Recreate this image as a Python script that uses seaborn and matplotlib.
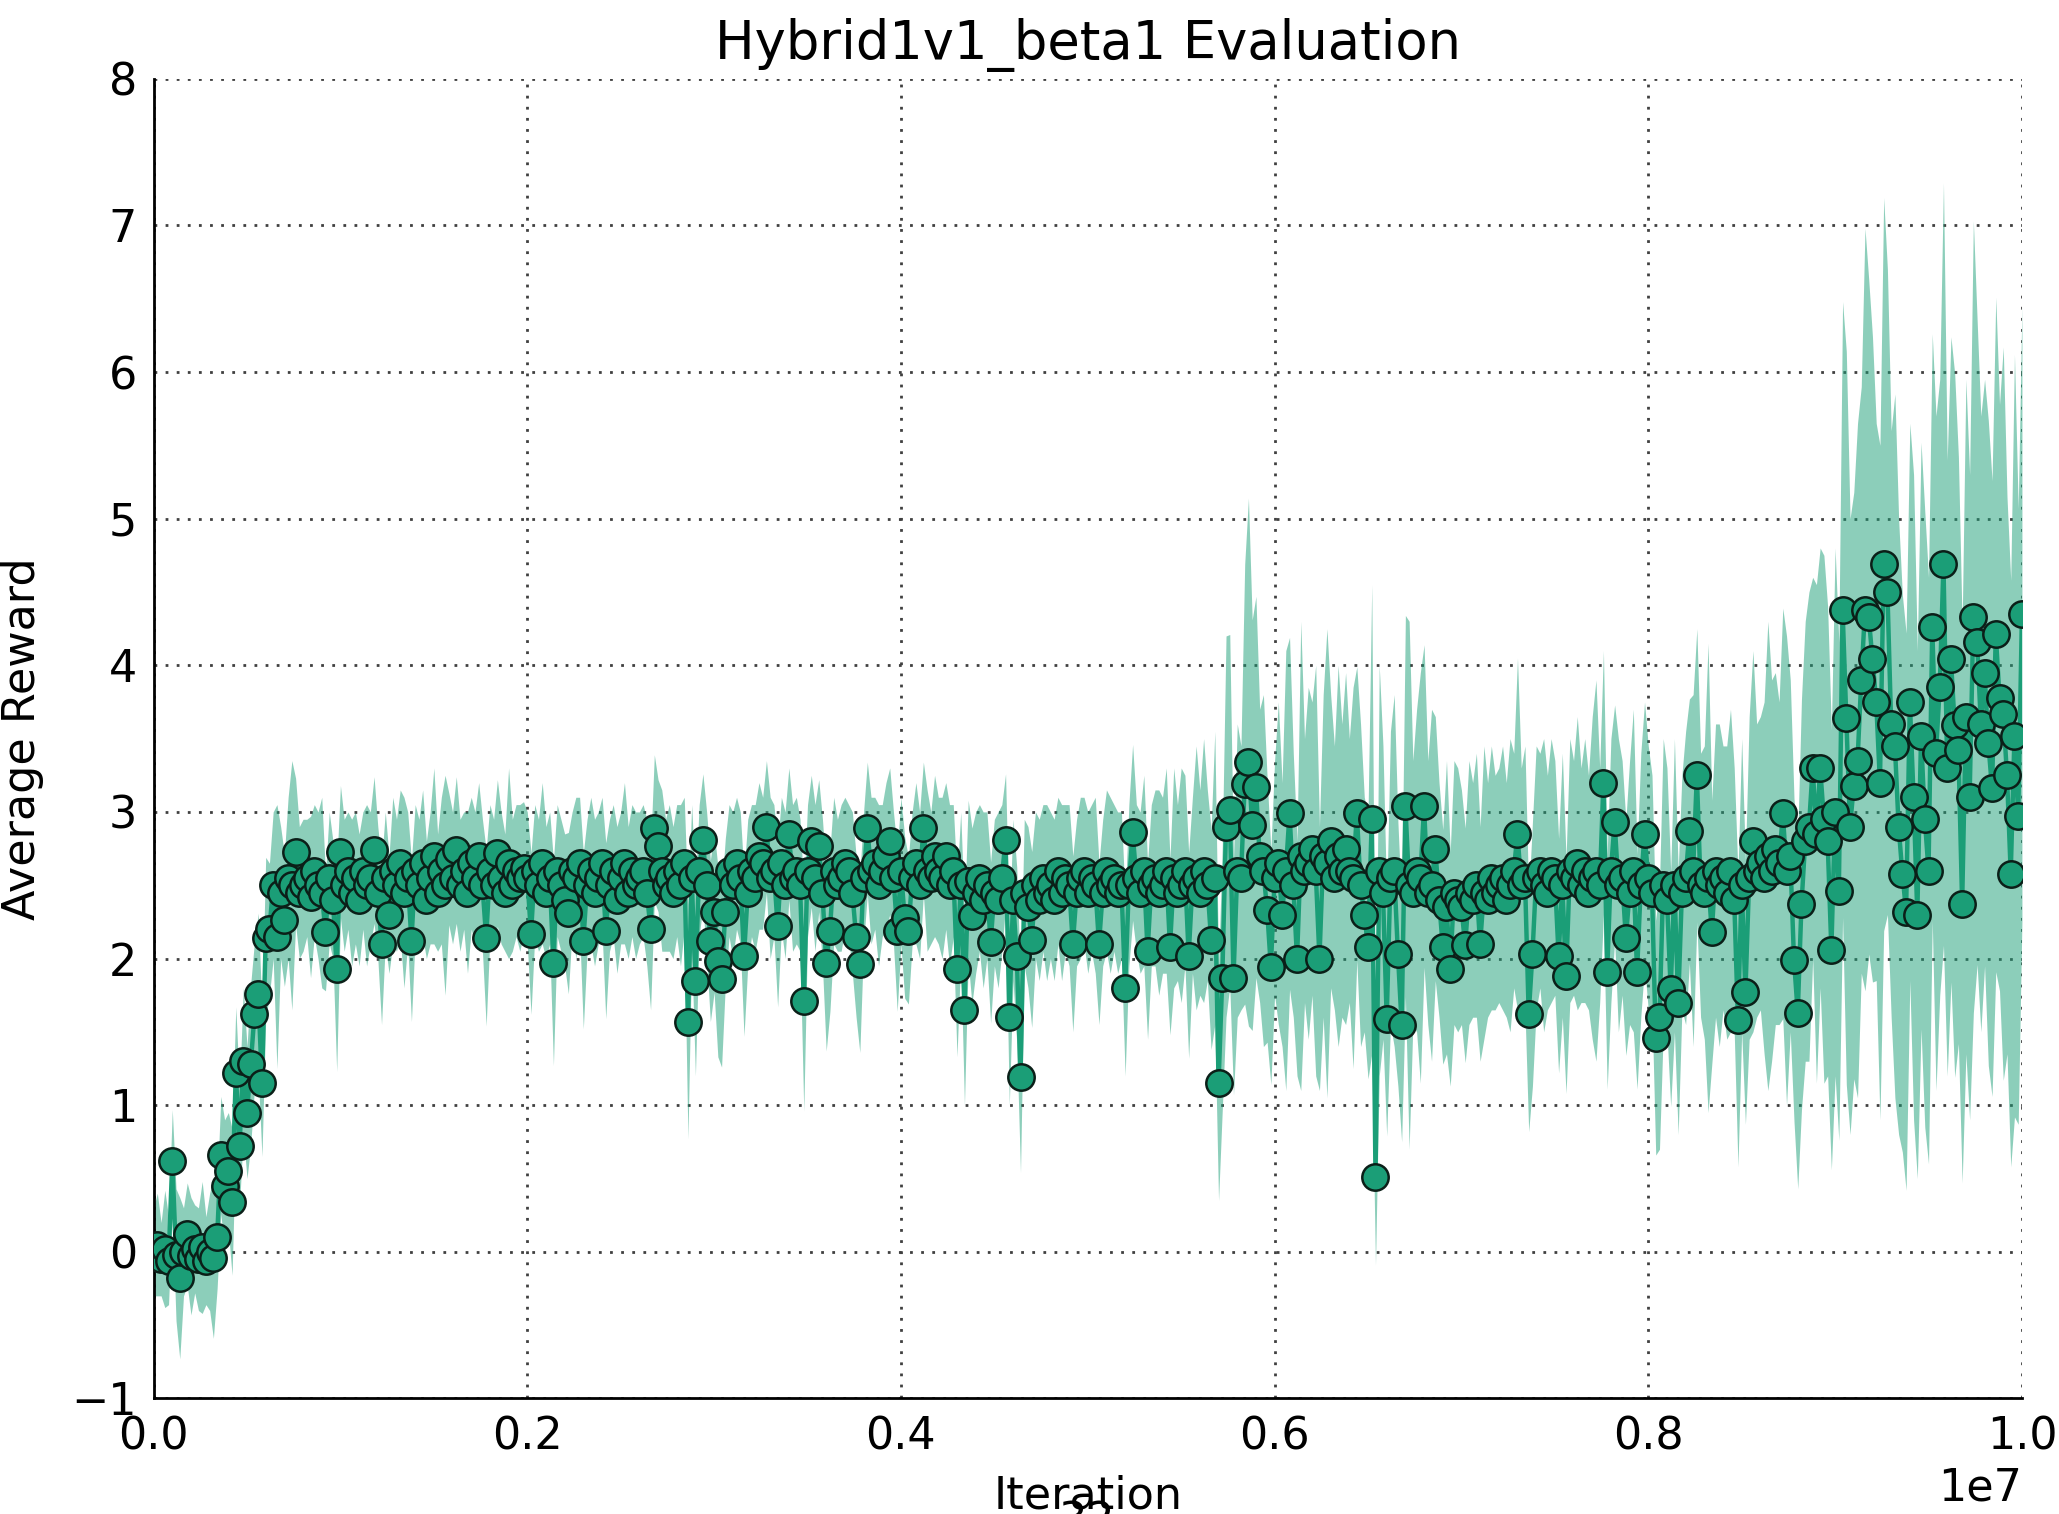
import numpy as np
import pandas as pd
import seaborn as sns
import matplotlib
matplotlib.use("Agg")
import matplotlib.pyplot as plt

# ---------------- data ----------------
TITLE = "Hybrid1v1_beta1 Evaluation"
X_LABEL = "Iteration"
Y_LABEL = "Average Reward"
X_TICKS = [0.0, 2e6, 4e6, 6e6, 8e6, 1e7]
Y_TICKS = [-1, 0, 1, 2, 3, 4, 5, 6, 7, 8]

# evaluation every 20 000 iterations, 0 .. 1e7
iterations = np.arange(0, 10_000_001, 20_000)

mean_reward = [
    0.00, 0.05, -0.05, 0.02, -0.06, 0.62, -0.02, -0.18, 0.00, 0.12,
    -0.03, 0.02, -0.05, 0.03, -0.06, 0.00, -0.04, 0.10, 0.66, 0.45,
    0.55, 0.34, 1.22, 0.72, 1.30, 0.95, 1.28, 1.62, 1.76, 1.15,
    2.14, 2.20, 2.50, 2.15, 2.45, 2.26, 2.55, 2.50, 2.73, 2.45,
    2.50, 2.55, 2.42, 2.60, 2.50, 2.45, 2.18, 2.55, 2.40, 1.93,
    2.73, 2.50, 2.60, 2.45, 2.55, 2.40, 2.60, 2.50, 2.55, 2.74,
    2.45, 2.10, 2.55, 2.30, 2.60, 2.50, 2.65, 2.45, 2.55, 2.12,
    2.60, 2.50, 2.65, 2.40, 2.55, 2.70, 2.45, 2.60, 2.50, 2.68,
    2.55, 2.74, 2.50, 2.60, 2.45, 2.65, 2.55, 2.70, 2.50, 2.14,
    2.60, 2.50, 2.72, 2.55, 2.45, 2.65, 2.50, 2.60, 2.55, 2.62,
    2.55, 2.17, 2.60, 2.50, 2.65, 2.45, 2.55, 1.97, 2.60, 2.50,
    2.40, 2.31, 2.60, 2.55, 2.65, 2.12, 2.50, 2.60, 2.45, 2.55,
    2.65, 2.19, 2.50, 2.60, 2.40, 2.55, 2.65, 2.45, 2.60, 2.50,
    2.55, 2.60, 2.45, 2.20, 2.89, 2.77, 2.60, 2.50, 2.55, 2.45,
    2.60, 2.50, 2.65, 1.57, 2.55, 1.85, 2.60, 2.81, 2.50, 2.12,
    2.32, 1.98, 1.86, 2.32, 2.60, 2.50, 2.65, 2.55, 2.02, 2.45,
    2.60, 2.55, 2.70, 2.65, 2.90, 2.55, 2.60, 2.22, 2.65, 2.50,
    2.85, 2.55, 2.60, 2.50, 1.71, 2.60, 2.80, 2.55, 2.77, 2.45,
    1.97, 2.19, 2.60, 2.50, 2.55, 2.65, 2.60, 2.45, 2.15, 1.96,
    2.55, 2.89, 2.60, 2.65, 2.50, 2.60, 2.70, 2.80, 2.55, 2.19,
    2.60, 2.28, 2.19, 2.55, 2.65, 2.50, 2.89, 2.60, 2.55, 2.70,
    2.60, 2.55, 2.70, 2.50, 2.60, 1.93, 2.50, 1.65, 2.53, 2.29,
    2.45, 2.55, 2.40, 2.50, 2.11, 2.45, 2.40, 2.55, 2.81, 1.60,
    2.40, 2.02, 1.19, 2.45, 2.35, 2.13, 2.50, 2.40, 2.55, 2.45,
    2.50, 2.40, 2.60, 2.45, 2.55, 2.50, 2.10, 2.45, 2.55, 2.60,
    2.45, 2.55, 2.50, 2.10, 2.45, 2.60, 2.50, 2.55, 2.45, 2.50,
    1.80, 2.50, 2.86, 2.55, 2.45, 2.60, 2.05, 2.50, 2.55, 2.45,
    2.50, 2.60, 2.08, 2.55, 2.45, 2.50, 2.60, 2.02, 2.50, 2.55,
    2.45, 2.60, 2.50, 2.13, 2.55, 1.15, 1.87, 2.90, 3.01, 1.87,
    2.60, 2.55, 3.19, 3.34, 2.91, 3.17, 2.70, 2.60, 2.33, 1.94,
    2.55, 2.65, 2.30, 2.60, 2.99, 2.50, 2.00, 2.70, 2.60, 2.65,
    2.75, 2.60, 2.00, 2.70, 2.65, 2.80, 2.55, 2.70, 2.60, 2.75,
    2.60, 2.55, 2.99, 2.50, 2.30, 2.08, 2.95, 0.51, 2.60, 2.45,
    1.59, 2.55, 2.60, 2.03, 1.55, 3.04, 2.50, 2.45, 2.60, 2.55,
    3.04, 2.45, 2.50, 2.75, 2.40, 2.08, 2.35, 1.93, 2.45, 2.40,
    2.35, 2.09, 2.45, 2.40, 2.50, 2.10, 2.45, 2.40, 2.55, 2.45,
    2.50, 2.55, 2.40, 2.50, 2.60, 2.85, 2.50, 2.55, 1.62, 2.03,
    2.55, 2.60, 2.50, 2.45, 2.60, 2.55, 2.02, 2.50, 1.88, 2.60,
    2.55, 2.65, 2.50, 2.60, 2.45, 2.55, 2.60, 2.50, 3.20, 1.91,
    2.60, 2.93, 2.50, 2.55, 2.14, 2.45, 2.60, 1.91, 2.50, 2.85,
    2.55, 2.45, 1.46, 1.60, 2.50, 2.40, 1.79, 2.50, 1.70, 2.45,
    2.55, 2.87, 2.60, 3.25, 2.50, 2.45, 2.55, 2.18, 2.60, 2.50,
    2.55, 2.45, 2.60, 2.40, 1.58, 2.50, 1.77, 2.55, 2.80, 2.60,
    2.65, 2.55, 2.70, 2.60, 2.75, 2.65, 2.99, 2.60, 2.70, 1.99,
    1.63, 2.37, 2.80, 2.90, 3.30, 2.85, 3.30, 2.95, 2.80, 2.06,
    3.00, 2.46, 4.38, 3.64, 2.90, 3.18, 3.35, 3.90, 4.38, 4.33,
    4.04, 3.75, 3.20, 4.69, 4.50, 3.60, 3.45, 2.90, 2.58, 2.32,
    3.75, 3.10, 2.30, 3.52, 2.95, 2.60, 4.26, 3.40, 3.85, 4.69,
    3.30, 4.04, 3.59, 3.42, 2.37, 3.65, 3.10, 4.33, 4.16, 3.60,
    3.95, 3.47, 3.16, 4.21, 3.78, 3.67, 3.25, 2.58, 3.52, 2.97,
    4.35,
]

std_reward = [
    0.30, 0.35, 0.25, 0.40, 0.30, 0.35, 0.45, 0.55, 0.30, 0.35,
    0.40, 0.30, 0.35, 0.45, 0.30, 0.40, 0.55, 0.35, 0.40, 0.45,
    0.40, 0.50, 0.45, 0.40, 0.50, 0.45, 0.55, 0.50, 0.55, 0.50,
    0.55, 0.45, 0.50, 0.90, 0.45, 0.45, 0.55, 0.85, 0.50, 0.45,
    0.45, 0.40, 0.55, 0.45, 0.50, 0.65, 0.40, 0.45, 0.40, 0.70,
    0.45, 0.45, 0.40, 0.50, 0.45, 0.45, 0.40, 0.55, 0.45, 0.50,
    0.45, 0.55, 0.45, 0.40, 0.50, 0.45, 0.50, 0.65, 0.45, 0.55,
    0.45, 0.45, 0.50, 0.40, 0.45, 0.60, 0.40, 0.50, 0.75, 0.45,
    0.45, 0.50, 0.45, 0.40, 0.55, 0.45, 0.45, 0.50, 0.45, 0.60,
    0.45, 0.45, 0.50, 0.45, 0.40, 0.65, 0.45, 0.45, 0.50, 0.45,
    0.45, 0.55, 0.45, 0.45, 0.55, 0.45, 0.45, 0.70, 0.45, 0.45,
    0.45, 0.55, 0.40, 0.55, 0.45, 0.60, 0.45, 0.50, 0.50, 0.45,
    0.45, 0.60, 0.45, 0.45, 0.50, 0.45, 0.55, 0.45, 0.45, 0.50,
    0.45, 0.45, 0.50, 0.55, 0.50, 0.45, 0.55, 0.45, 0.50, 0.45,
    0.45, 0.55, 0.45, 0.80, 0.50, 0.65, 0.45, 0.45, 0.50, 0.55,
    0.55, 0.65, 0.60, 0.50, 0.45, 0.50, 0.45, 0.45, 0.55, 0.50,
    0.45, 0.50, 0.50, 0.45, 0.45, 0.55, 0.45, 0.55, 0.45, 0.50,
    0.45, 0.50, 0.50, 0.45, 0.75, 0.45, 0.45, 0.50, 0.45, 0.50,
    0.60, 0.55, 0.50, 0.45, 0.50, 0.45, 0.45, 0.55, 0.55, 0.60,
    0.45, 0.45, 0.50, 0.45, 0.55, 0.45, 0.50, 0.50, 0.45, 0.55,
    0.50, 0.55, 0.50, 0.45, 0.55, 0.50, 0.45, 0.55, 0.45, 0.55,
    0.50, 0.55, 0.50, 0.55, 0.45, 0.60, 0.50, 0.65, 0.55, 0.60,
    0.55, 0.50, 0.60, 0.50, 0.55, 0.50, 0.60, 0.50, 0.45, 0.60,
    0.55, 0.60, 0.65, 0.50, 0.55, 0.60, 0.50, 0.55, 0.50, 0.60,
    0.50, 0.55, 0.50, 0.60, 0.50, 0.55, 0.60, 0.50, 0.55, 0.50,
    0.55, 0.50, 0.60, 0.55, 0.50, 0.55, 0.60, 0.50, 0.55, 0.50,
    0.60, 0.55, 0.60, 0.50, 0.55, 0.65, 0.60, 0.55, 0.60, 0.70,
    0.60, 0.70, 0.60, 0.75, 0.60, 0.80, 0.65, 0.70, 0.60, 0.90,
    0.70, 0.90, 0.65, 0.75, 1.00, 0.80, 0.90, 1.30, 1.20, 0.80,
    1.00, 0.90, 1.50, 1.80, 1.40, 1.30, 1.00, 1.20, 0.90, 0.80,
    0.80, 1.10, 0.90, 1.50, 1.20, 0.90, 0.80, 1.60, 0.90, 1.20,
    1.00, 1.40, 0.90, 1.10, 1.60, 1.00, 0.90, 1.30, 1.00, 1.20,
    0.90, 1.30, 1.00, 1.10, 0.80, 0.90, 1.60, 0.60, 1.40, 1.00,
    0.80, 1.00, 1.20, 0.90, 0.80, 1.30, 1.80, 0.90, 1.10, 1.40,
    1.10, 0.90, 1.20, 0.90, 0.80, 0.80, 1.00, 0.80, 0.90, 0.90,
    0.80, 0.80, 0.90, 0.80, 0.90, 0.80, 1.00, 0.80, 0.90, 0.80,
    0.80, 0.90, 0.80, 1.00, 0.80, 1.20, 0.80, 0.90, 0.80, 0.90,
    0.90, 0.80, 1.00, 0.80, 0.90, 0.80, 0.80, 0.90, 0.80, 0.90,
    0.80, 1.00, 0.80, 0.90, 0.80, 1.10, 1.30, 0.80, 0.90, 0.80,
    0.90, 0.80, 1.00, 0.80, 0.80, 0.90, 1.10, 0.80, 0.90, 0.90,
    0.90, 0.80, 0.80, 0.90, 1.00, 0.90, 0.80, 1.00, 0.90, 0.80,
    1.00, 0.90, 1.20, 1.00, 0.90, 1.00, 1.60, 0.90, 1.00, 1.10,
    0.90, 1.00, 1.10, 0.90, 1.00, 1.00, 0.90, 1.10, 1.30, 1.00,
    1.00, 1.20, 1.60, 1.30, 1.20, 1.10, 1.40, 1.60, 1.20, 1.10,
    1.20, 1.40, 1.50, 1.60, 1.30, 1.70, 1.50, 1.80, 1.60, 1.50,
    1.80, 1.70, 2.10, 2.50, 2.10, 2.00, 2.30, 2.00, 2.60, 2.30,
    2.20, 1.90, 2.30, 2.50, 2.20, 2.00, 2.40, 2.10, 1.90, 1.90,
    1.90, 2.20, 1.80, 2.00, 2.10, 2.00, 2.00, 2.30, 2.10, 2.60,
    2.10, 2.20, 2.40, 2.00, 1.90, 2.30, 2.20, 2.70, 2.20, 2.10,
    2.00, 2.20, 2.10, 2.30, 2.00, 2.50, 1.90, 2.00, 2.60, 2.10,
    2.10,
]

assert len(mean_reward) == len(iterations) == len(std_reward)

# ---------------- styling ----------------
COLOR = "#1b9e77"
FS = 16

sns.set_style("white")
plt.rcParams["font.family"] = ["DejaVu Sans"]
plt.rcParams["text.color"] = "black"
plt.rcParams["axes.labelcolor"] = "black"
plt.rcParams["xtick.color"] = "black"
plt.rcParams["ytick.color"] = "black"

df = pd.DataFrame({"iteration": iterations,
                   "mean": mean_reward,
                   "std": std_reward})
df["lower"] = df["mean"] - df["std"]
df["upper"] = df["mean"] + df["std"]

fig = plt.figure(figsize=(2059 / 200, 1514 / 200), dpi=200)
ax = fig.add_axes([0.0746, 0.0763, 0.982 - 0.0746, 0.948 - 0.0763])

ax.fill_between(df["iteration"], df["lower"], df["upper"],
                color=COLOR, alpha=0.5, linewidth=0, zorder=1)
sns.lineplot(data=df, x="iteration", y="mean", ax=ax, color=COLOR,
             linewidth=1.6, marker="o", markersize=9.5,
             markerfacecolor=COLOR, markeredgecolor="#0b1f18",
             markeredgewidth=0.9, errorbar=None, zorder=3)

ax.set_xlim(0, 1e7)
ax.set_ylim(-1, 8)
ax.set_xticks(X_TICKS)
ax.set_yticks(Y_TICKS)

ax.grid(True, linestyle=(0, (1, 3)), color="0.25", linewidth=1.0)
ax.set_axisbelow(True)
for side in ["top", "right"]:
    ax.spines[side].set_visible(False)
for side in ["left", "bottom"]:
    ax.spines[side].set_color("black")
    ax.spines[side].set_linewidth(1.0)

ax.tick_params(axis="both", length=0, labelsize=FS, pad=6)
ax.xaxis.get_offset_text().set_fontsize(FS)

ax.set_title(TITLE, fontsize=19, pad=7)
ax.set_xlabel(X_LABEL, fontsize=FS, labelpad=6)
ax.set_ylabel(Y_LABEL, fontsize=FS, labelpad=10)

# page number partly cut off at the bottom edge of the reference
fig.text(0.528, 0.0086, "32", ha="center", va="top", fontsize=FS)

fig.savefig("out.png", dpi=200)
